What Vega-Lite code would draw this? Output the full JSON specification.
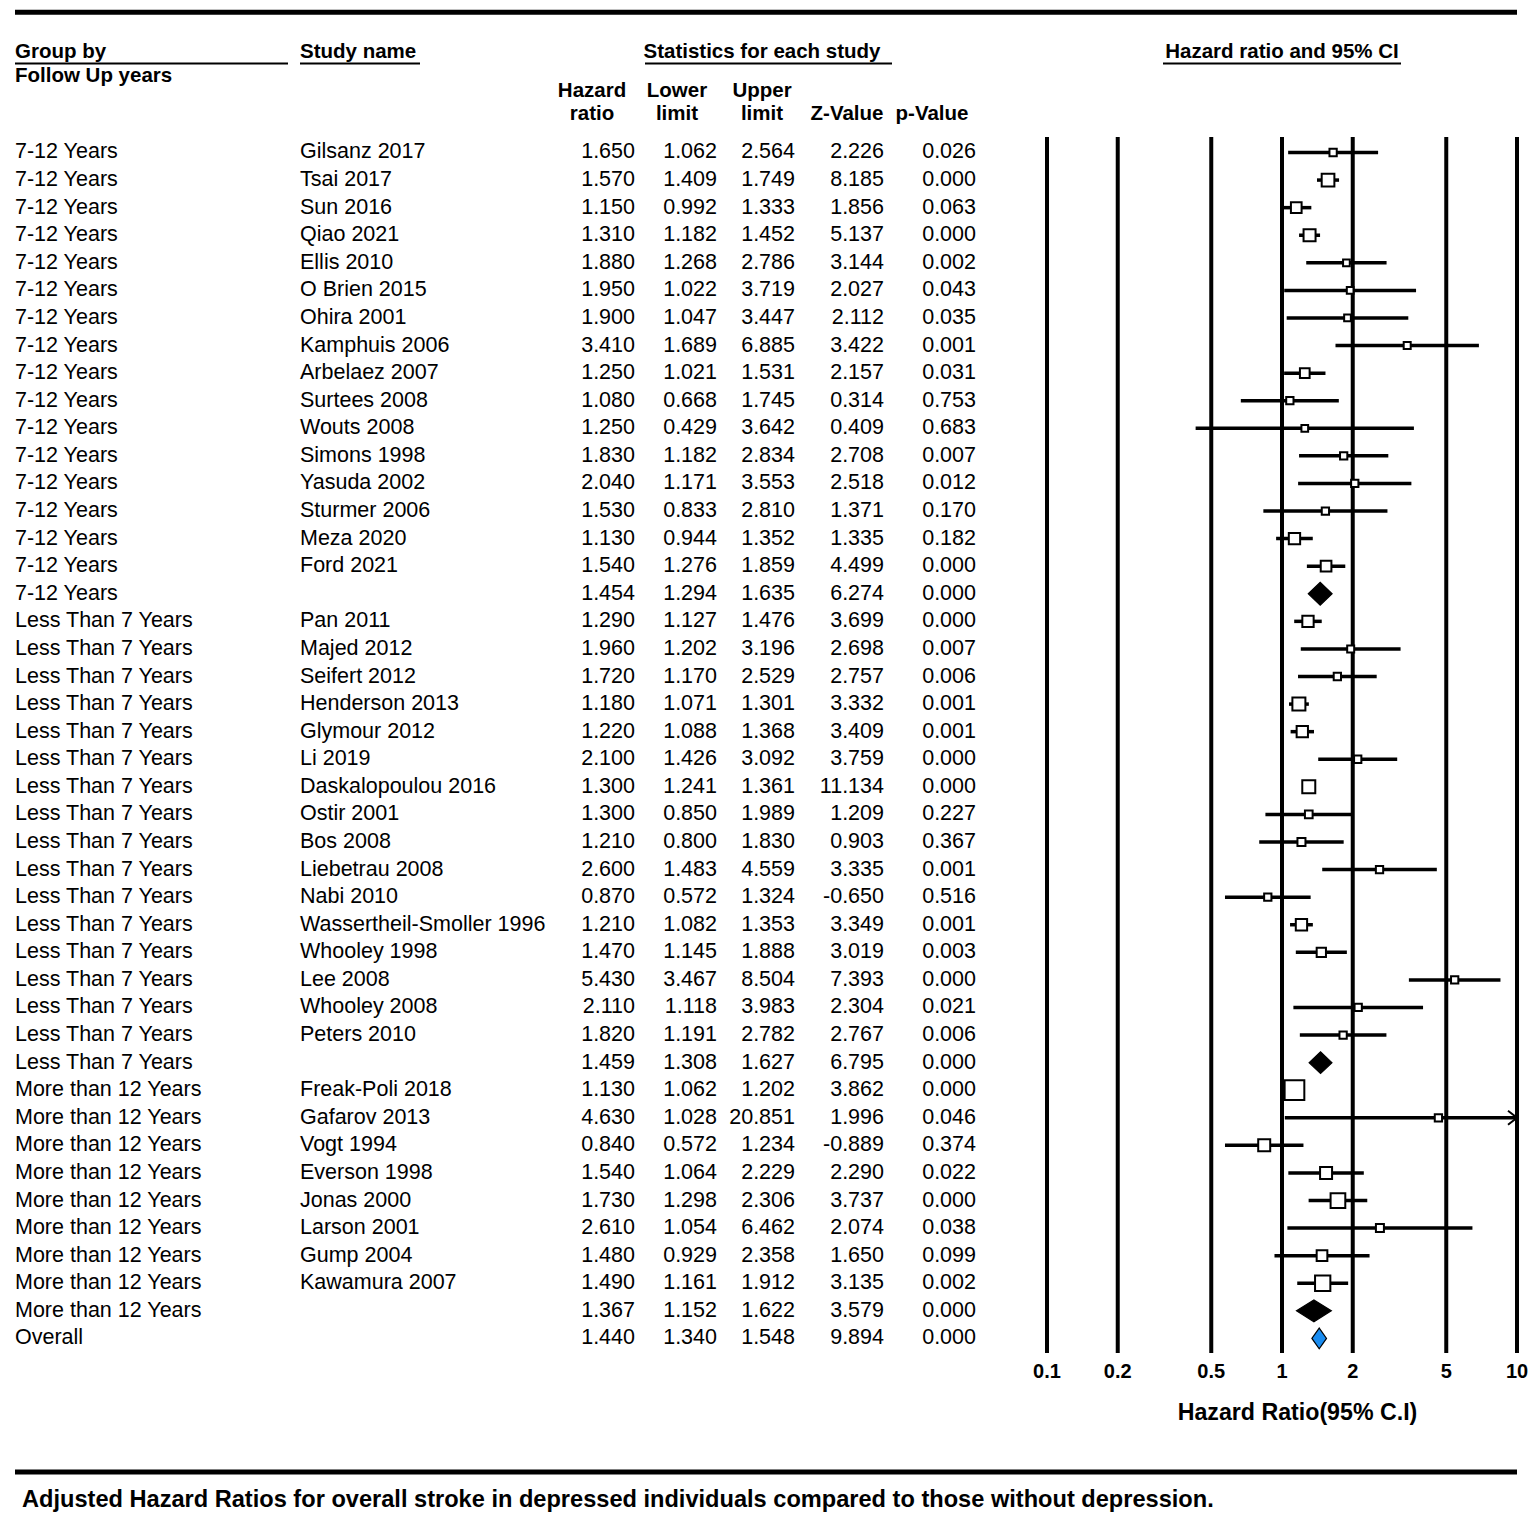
{
  "$schema": "https://vega.github.io/schema/vega-lite/v6.json",
  "width": 1502,
  "height": 1522,
  "autosize": {"type": "none"},
  "padding": {"left": 15, "right": 18, "top": 0, "bottom": 0},
  "background": "white",
  "config": {
    "view": {"stroke": null},
    "text": {"font": "Liberation Sans", "fontSize": 21.5, "baseline": "middle", "color": "black"},
    "locale": {"number": {"decimal": ".", "thousands": ",", "grouping": [3], "currency": ["$", ""], "minus": "-"}}
  },
  "datasets": {
    "rows": [
      {"row": 1, "group": "7-12 Years", "study": "Gilsanz 2017", "hr": 1.650, "ll": 1.062, "ul": 2.564, "z": 2.226, "p": 0.026, "type": "study", "w": 5.3},
      {"row": 2, "group": "7-12 Years", "study": "Tsai 2017", "hr": 1.570, "ll": 1.409, "ul": 1.749, "z": 8.185, "p": 0.000, "type": "study", "w": 16.1},
      {"row": 3, "group": "7-12 Years", "study": "Sun 2016", "hr": 1.150, "ll": 0.992, "ul": 1.333, "z": 1.856, "p": 0.063, "type": "study", "w": 11.4},
      {"row": 4, "group": "7-12 Years", "study": "Qiao 2021", "hr": 1.310, "ll": 1.182, "ul": 1.452, "z": 5.137, "p": 0.000, "type": "study", "w": 14.4},
      {"row": 5, "group": "7-12 Years", "study": "Ellis 2010", "hr": 1.880, "ll": 1.268, "ul": 2.786, "z": 3.144, "p": 0.002, "type": "study", "w": 4.5},
      {"row": 6, "group": "7-12 Years", "study": "O Brien 2015", "hr": 1.950, "ll": 1.022, "ul": 3.719, "z": 2.027, "p": 0.043, "type": "study", "w": 4.5},
      {"row": 7, "group": "7-12 Years", "study": "Ohira 2001", "hr": 1.900, "ll": 1.047, "ul": 3.447, "z": 2.112, "p": 0.035, "type": "study", "w": 4.5},
      {"row": 8, "group": "7-12 Years", "study": "Kamphuis 2006", "hr": 3.410, "ll": 1.689, "ul": 6.885, "z": 3.422, "p": 0.001, "type": "study", "w": 4.9},
      {"row": 9, "group": "7-12 Years", "study": "Arbelaez 2007", "hr": 1.250, "ll": 1.021, "ul": 1.531, "z": 2.157, "p": 0.031, "type": "study", "w": 9.4},
      {"row": 10, "group": "7-12 Years", "study": "Surtees 2008", "hr": 1.080, "ll": 0.668, "ul": 1.745, "z": 0.314, "p": 0.753, "type": "study", "w": 5.3},
      {"row": 11, "group": "7-12 Years", "study": "Wouts 2008", "hr": 1.250, "ll": 0.429, "ul": 3.642, "z": 0.409, "p": 0.683, "type": "study", "w": 4.5},
      {"row": 12, "group": "7-12 Years", "study": "Simons 1998", "hr": 1.830, "ll": 1.182, "ul": 2.834, "z": 2.708, "p": 0.007, "type": "study", "w": 5.3},
      {"row": 13, "group": "7-12 Years", "study": "Yasuda 2002", "hr": 2.040, "ll": 1.171, "ul": 3.553, "z": 2.518, "p": 0.012, "type": "study", "w": 5.3},
      {"row": 14, "group": "7-12 Years", "study": "Sturmer 2006", "hr": 1.530, "ll": 0.833, "ul": 2.810, "z": 1.371, "p": 0.170, "type": "study", "w": 5.3},
      {"row": 15, "group": "7-12 Years", "study": "Meza 2020", "hr": 1.130, "ll": 0.944, "ul": 1.352, "z": 1.335, "p": 0.182, "type": "study", "w": 12.8},
      {"row": 16, "group": "7-12 Years", "study": "Ford 2021", "hr": 1.540, "ll": 1.276, "ul": 1.859, "z": 4.499, "p": 0.000, "type": "study", "w": 11.4},
      {"row": 17, "group": "7-12 Years", "study": "", "hr": 1.454, "ll": 1.294, "ul": 1.635, "z": 6.274, "p": 0.000, "type": "summary"},
      {"row": 18, "group": "Less Than 7 Years", "study": "Pan 2011", "hr": 1.290, "ll": 1.127, "ul": 1.476, "z": 3.699, "p": 0.000, "type": "study", "w": 12.8},
      {"row": 19, "group": "Less Than 7 Years", "study": "Majed 2012", "hr": 1.960, "ll": 1.202, "ul": 3.196, "z": 2.698, "p": 0.007, "type": "study", "w": 4.9},
      {"row": 20, "group": "Less Than 7 Years", "study": "Seifert 2012", "hr": 1.720, "ll": 1.170, "ul": 2.529, "z": 2.757, "p": 0.006, "type": "study", "w": 5.3},
      {"row": 21, "group": "Less Than 7 Years", "study": "Henderson 2013", "hr": 1.180, "ll": 1.071, "ul": 1.301, "z": 3.332, "p": 0.001, "type": "study", "w": 16.9},
      {"row": 22, "group": "Less Than 7 Years", "study": "Glymour 2012", "hr": 1.220, "ll": 1.088, "ul": 1.368, "z": 3.409, "p": 0.001, "type": "study", "w": 12.8},
      {"row": 23, "group": "Less Than 7 Years", "study": "Li 2019", "hr": 2.100, "ll": 1.426, "ul": 3.092, "z": 3.759, "p": 0.000, "type": "study", "w": 5.3},
      {"row": 24, "group": "Less Than 7 Years", "study": "Daskalopoulou 2016", "hr": 1.300, "ll": 1.241, "ul": 1.361, "z": 11.134, "p": 0.000, "type": "study", "w": 16.9},
      {"row": 25, "group": "Less Than 7 Years", "study": "Ostir 2001", "hr": 1.300, "ll": 0.850, "ul": 1.989, "z": 1.209, "p": 0.227, "type": "study", "w": 5.9},
      {"row": 26, "group": "Less Than 7 Years", "study": "Bos 2008", "hr": 1.210, "ll": 0.800, "ul": 1.830, "z": 0.903, "p": 0.367, "type": "study", "w": 6.4},
      {"row": 27, "group": "Less Than 7 Years", "study": "Liebetrau 2008", "hr": 2.600, "ll": 1.483, "ul": 4.559, "z": 3.335, "p": 0.001, "type": "study", "w": 5.3},
      {"row": 28, "group": "Less Than 7 Years", "study": "Nabi 2010", "hr": 0.870, "ll": 0.572, "ul": 1.324, "z": -0.650, "p": 0.516, "type": "study", "w": 5.3},
      {"row": 29, "group": "Less Than 7 Years", "study": "Wassertheil-Smoller 1996", "hr": 1.210, "ll": 1.082, "ul": 1.353, "z": 3.349, "p": 0.001, "type": "study", "w": 12.8},
      {"row": 30, "group": "Less Than 7 Years", "study": "Whooley 1998", "hr": 1.470, "ll": 1.145, "ul": 1.888, "z": 3.019, "p": 0.003, "type": "study", "w": 8.6},
      {"row": 31, "group": "Less Than 7 Years", "study": "Lee 2008", "hr": 5.430, "ll": 3.467, "ul": 8.504, "z": 7.393, "p": 0.000, "type": "study", "w": 5.3},
      {"row": 32, "group": "Less Than 7 Years", "study": "Whooley 2008", "hr": 2.110, "ll": 1.118, "ul": 3.983, "z": 2.304, "p": 0.021, "type": "study", "w": 5.3},
      {"row": 33, "group": "Less Than 7 Years", "study": "Peters 2010", "hr": 1.820, "ll": 1.191, "ul": 2.782, "z": 2.767, "p": 0.006, "type": "study", "w": 5.3},
      {"row": 34, "group": "Less Than 7 Years", "study": "", "hr": 1.459, "ll": 1.308, "ul": 1.627, "z": 6.795, "p": 0.000, "type": "summary"},
      {"row": 35, "group": "More than 12 Years", "study": "Freak-Poli 2018", "hr": 1.130, "ll": 1.062, "ul": 1.202, "z": 3.862, "p": 0.000, "type": "study", "w": 38.8},
      {"row": 36, "group": "More than 12 Years", "study": "Gafarov 2013", "hr": 4.630, "ll": 1.028, "ul": 20.851, "z": 1.996, "p": 0.046, "type": "study", "w": 5.3},
      {"row": 37, "group": "More than 12 Years", "study": "Vogt 1994", "hr": 0.840, "ll": 0.572, "ul": 1.234, "z": -0.889, "p": 0.374, "type": "study", "w": 14.4},
      {"row": 38, "group": "More than 12 Years", "study": "Everson 1998", "hr": 1.540, "ll": 1.064, "ul": 2.229, "z": 2.290, "p": 0.022, "type": "study", "w": 14.4},
      {"row": 39, "group": "More than 12 Years", "study": "Jonas 2000", "hr": 1.730, "ll": 1.298, "ul": 2.306, "z": 3.737, "p": 0.000, "type": "study", "w": 21.6},
      {"row": 40, "group": "More than 12 Years", "study": "Larson 2001", "hr": 2.610, "ll": 1.054, "ul": 6.462, "z": 2.074, "p": 0.038, "type": "study", "w": 6.4},
      {"row": 41, "group": "More than 12 Years", "study": "Gump 2004", "hr": 1.480, "ll": 0.929, "ul": 2.358, "z": 1.650, "p": 0.099, "type": "study", "w": 11.4},
      {"row": 42, "group": "More than 12 Years", "study": "Kawamura 2007", "hr": 1.490, "ll": 1.161, "ul": 1.912, "z": 3.135, "p": 0.002, "type": "study", "w": 23.4},
      {"row": 43, "group": "More than 12 Years", "study": "", "hr": 1.367, "ll": 1.152, "ul": 1.622, "z": 3.579, "p": 0.000, "type": "summary"},
      {"row": 44, "group": "Overall", "study": "", "hr": 1.440, "ll": 1.340, "ul": 1.548, "z": 9.894, "p": 0.000, "type": "summary"}
    ],
    "ticks": [
      {"v": 0.1, "label": "0.1"}, {"v": 0.2, "label": "0.2"}, {"v": 0.5, "label": "0.5"},
      {"v": 1, "label": "1"}, {"v": 2, "label": "2"}, {"v": 5, "label": "5"}, {"v": 10, "label": "10"}
    ],
    "numhdr": [
      {"col": "Upper limit", "row": -2.644, "text": "Statistics for each study"},
      {"col": "Hazard ratio", "row": -1.23, "text": "Hazard"},
      {"col": "Hazard ratio", "row": -0.396, "text": "ratio"},
      {"col": "Lower limit", "row": -1.23, "text": "Lower"},
      {"col": "Lower limit", "row": -0.396, "text": "limit"},
      {"col": "Upper limit", "row": -1.23, "text": "Upper"},
      {"col": "Upper limit", "row": -0.396, "text": "limit"},
      {"col": "Z-Value", "row": -0.396, "text": "Z-Value"},
      {"col": "p-Value", "row": -0.396, "text": "p-Value"}
    ],
    "lefthdr": [
      {"col": "Group", "row": -2.644, "text": "Group by"},
      {"col": "Group", "row": -1.774, "text": "Follow Up years"},
      {"col": "Study", "row": -2.644, "text": "Study name"}
    ]
  },
  "resolve": {"scale": {"x": "independent"}, "axis": {"x": "independent"}},
  "layer": [
    {
      "data": {"name": "ticks"},
      "mark": {"type": "rule", "strokeWidth": 4, "color": "black"},
      "encoding": {
        "x": {"field": "v", "type": "quantitative", "scale": {"type": "log", "domain": [0.1, 10], "range": [1032, 1502], "clamp": true, "nice": false}, "axis": null},
        "y": {"datum": 0.438, "type": "quantitative", "scale": {"domain": [-4.529, 50.656], "reverse": true, "nice": false, "zero": false}, "axis": null},
        "y2": {"datum": 44.53}
      }
    },
    {
      "data": {"name": "rows"},
      "transform": [{"filter": "datum.type == 'study'"}],
      "mark": {"type": "rule", "strokeWidth": 3.5, "color": "black"},
      "encoding": {
        "x": {"field": "ll", "type": "quantitative", "scale": {"type": "log", "domain": [0.1, 10], "range": [1032, 1502], "clamp": true, "nice": false}, "axis": null},
        "x2": {"field": "ul"},
        "y": {"field": "row", "type": "quantitative", "scale": {"domain": [-4.529, 50.656], "reverse": true, "nice": false, "zero": false}, "axis": null}
      }
    },
    {
      "data": {"name": "rows"},
      "transform": [{"filter": "datum.type == 'study' && datum.ul > 10"}],
      "mark": {"type": "point", "shape": "M-9,-7L0,0L-9,7", "size": 4, "filled": false, "stroke": "black", "strokeWidth": 2, "opacity": 1},
      "encoding": {
        "x": {"field": "ul", "type": "quantitative", "scale": {"type": "log", "domain": [0.1, 10], "range": [1032, 1502], "clamp": true, "nice": false}, "axis": null},
        "y": {"field": "row", "type": "quantitative", "scale": {"domain": [-4.529, 50.656], "reverse": true, "nice": false, "zero": false}, "axis": null}
      }
    },
    {
      "data": {"name": "rows"},
      "transform": [{"filter": "datum.type == 'study'"}],
      "mark": {"type": "point", "shape": "square", "filled": true, "fill": "white", "stroke": "black", "strokeWidth": 2, "opacity": 1, "fillOpacity": 1, "strokeOpacity": 1},
      "encoding": {
        "x": {"field": "hr", "type": "quantitative", "scale": {"type": "log", "domain": [0.1, 10], "range": [1032, 1502], "clamp": true, "nice": false}, "axis": null},
        "y": {"field": "row", "type": "quantitative", "scale": {"domain": [-4.529, 50.656], "reverse": true, "nice": false, "zero": false}, "axis": null},
        "size": {"field": "w", "type": "quantitative", "scale": {"type": "linear", "domain": [0, 38.8], "range": [0, 388], "zero": true}, "legend": null}
      }
    },
    {
      "data": {"name": "rows"},
      "transform": [{"filter": "datum.type == 'summary'"}],
      "mark": {"type": "point", "size": 4, "filled": true, "stroke": "black", "strokeWidth": 1.2, "opacity": 1, "fillOpacity": 1, "strokeOpacity": 1},
      "encoding": {
        "x": {"field": "hr", "type": "quantitative", "scale": {"type": "log", "domain": [0.1, 10], "range": [1032, 1502], "clamp": true, "nice": false}, "axis": null},
        "y": {"field": "row", "type": "quantitative", "scale": {"domain": [-4.529, 50.656], "reverse": true, "nice": false, "zero": false}, "axis": null},
        "shape": {"field": "group", "type": "nominal", "legend": null, "scale": {"domain": ["7-12 Years", "Less Than 7 Years", "More than 12 Years", "Overall"], "range": ["M-11.9,0L0,-11.4L11.9,0L0,11.4Z", "M-11.4,0L0,-10.9L11.4,0L0,10.9Z", "M-17.4,0L0,-10.9L17.4,0L0,10.9Z", "M-7.3,0L0,-10.3L7.3,0L0,10.3Z"]}},
        "fill": {"field": "group", "type": "nominal", "legend": null, "scale": {"domain": ["7-12 Years", "Less Than 7 Years", "More than 12 Years", "Overall"], "range": ["black", "black", "black", "#1a8cf0"]}}
      }
    },
    {
      "data": {"name": "rows"},
      "mark": {"type": "text", "align": "left"},
      "encoding": {
        "x": {"datum": "Group", "type": "nominal", "scale": {"type": "point", "domain": ["Group", "Study"], "range": [0, 285], "padding": 0}, "axis": null},
        "y": {"field": "row", "type": "quantitative", "scale": {"domain": [-4.529, 50.656], "reverse": true, "nice": false, "zero": false}, "axis": null},
        "text": {"field": "group"}
      }
    },
    {
      "data": {"name": "rows"},
      "mark": {"type": "text", "align": "left"},
      "encoding": {
        "x": {"datum": "Study", "type": "nominal", "scale": {"type": "point", "domain": ["Group", "Study"], "range": [0, 285], "padding": 0}, "axis": null},
        "y": {"field": "row", "type": "quantitative", "scale": {"domain": [-4.529, 50.656], "reverse": true, "nice": false, "zero": false}, "axis": null},
        "text": {"field": "study"}
      }
    },
    {
      "data": {"name": "rows"},
      "mark": {"type": "text", "align": "right", "dx": 0},
      "encoding": {
        "x": {"datum": "Hazard ratio", "type": "nominal", "scale": {"type": "point", "domain": ["Hazard ratio", "Lower limit", "Upper limit", "Z-Value", "p-Value"], "range": [620, 960], "padding": 0}, "axis": null},
        "y": {"field": "row", "type": "quantitative", "scale": {"domain": [-4.529, 50.656], "reverse": true, "nice": false, "zero": false}, "axis": null},
        "text": {"field": "hr", "type": "quantitative", "format": ".3f"}
      }
    },
    {
      "data": {"name": "rows"},
      "mark": {"type": "text", "align": "right", "dx": -3},
      "encoding": {
        "x": {"datum": "Lower limit", "type": "nominal", "scale": {"type": "point", "domain": ["Hazard ratio", "Lower limit", "Upper limit", "Z-Value", "p-Value"], "range": [620, 960], "padding": 0}, "axis": null},
        "y": {"field": "row", "type": "quantitative", "scale": {"domain": [-4.529, 50.656], "reverse": true, "nice": false, "zero": false}, "axis": null},
        "text": {"field": "ll", "type": "quantitative", "format": ".3f"}
      }
    },
    {
      "data": {"name": "rows"},
      "mark": {"type": "text", "align": "right", "dx": -10},
      "encoding": {
        "x": {"datum": "Upper limit", "type": "nominal", "scale": {"type": "point", "domain": ["Hazard ratio", "Lower limit", "Upper limit", "Z-Value", "p-Value"], "range": [620, 960], "padding": 0}, "axis": null},
        "y": {"field": "row", "type": "quantitative", "scale": {"domain": [-4.529, 50.656], "reverse": true, "nice": false, "zero": false}, "axis": null},
        "text": {"field": "ul", "type": "quantitative", "format": ".3f"}
      }
    },
    {
      "data": {"name": "rows"},
      "mark": {"type": "text", "align": "right", "dx": -6},
      "encoding": {
        "x": {"datum": "Z-Value", "type": "nominal", "scale": {"type": "point", "domain": ["Hazard ratio", "Lower limit", "Upper limit", "Z-Value", "p-Value"], "range": [620, 960], "padding": 0}, "axis": null},
        "y": {"field": "row", "type": "quantitative", "scale": {"domain": [-4.529, 50.656], "reverse": true, "nice": false, "zero": false}, "axis": null},
        "text": {"field": "z", "type": "quantitative", "format": ".3f"}
      }
    },
    {
      "data": {"name": "rows"},
      "mark": {"type": "text", "align": "right", "dx": 1},
      "encoding": {
        "x": {"datum": "p-Value", "type": "nominal", "scale": {"type": "point", "domain": ["Hazard ratio", "Lower limit", "Upper limit", "Z-Value", "p-Value"], "range": [620, 960], "padding": 0}, "axis": null},
        "y": {"field": "row", "type": "quantitative", "scale": {"domain": [-4.529, 50.656], "reverse": true, "nice": false, "zero": false}, "axis": null},
        "text": {"field": "p", "type": "quantitative", "format": ".3f"}
      }
    },
    {
      "data": {"name": "numhdr"},
      "mark": {"type": "text", "align": "center", "dx": -43, "fontWeight": "bold", "fontSize": 20.5},
      "encoding": {
        "x": {"field": "col", "type": "nominal", "scale": {"type": "point", "domain": ["Hazard ratio", "Lower limit", "Upper limit", "Z-Value", "p-Value"], "range": [620, 960], "padding": 0}, "axis": null},
        "y": {"field": "row", "type": "quantitative", "scale": {"domain": [-4.529, 50.656], "reverse": true, "nice": false, "zero": false}, "axis": null},
        "text": {"field": "text"}
      }
    },
    {
      "data": {"name": "lefthdr"},
      "mark": {"type": "text", "align": "left", "fontWeight": "bold", "fontSize": 20.5},
      "encoding": {
        "x": {"field": "col", "type": "nominal", "scale": {"type": "point", "domain": ["Group", "Study"], "range": [0, 285], "padding": 0}, "axis": null},
        "y": {"field": "row", "type": "quantitative", "scale": {"domain": [-4.529, 50.656], "reverse": true, "nice": false, "zero": false}, "axis": null},
        "text": {"field": "text"}
      }
    },
    {
      "data": {"values": [{"label": "Hazard ratio and 95% CI"}]},
      "mark": {"type": "text", "align": "center", "fontWeight": "bold", "fontSize": 20.5},
      "encoding": {
        "x": {"datum": 1, "type": "quantitative", "scale": {"type": "log", "domain": [0.1, 10], "range": [1032, 1502], "clamp": true, "nice": false}, "axis": null},
        "y": {"datum": -2.644, "type": "quantitative", "scale": {"domain": [-4.529, 50.656], "reverse": true, "nice": false, "zero": false}, "axis": null},
        "text": {"field": "label"}
      }
    },
    {
      "data": {"name": "ticks"},
      "mark": {"type": "text", "align": "center", "fontWeight": "bold", "fontSize": 20},
      "encoding": {
        "x": {"field": "v", "type": "quantitative", "scale": {"type": "log", "domain": [0.1, 10], "range": [1032, 1502], "clamp": true, "nice": false}, "axis": null},
        "y": {"datum": 45.2, "type": "quantitative", "scale": {"domain": [-4.529, 50.656], "reverse": true, "nice": false, "zero": false}, "axis": null},
        "text": {"field": "label"}
      }
    },
    {
      "data": {"values": [{"label": "Hazard Ratio(95% C.I)"}]},
      "mark": {"type": "text", "align": "center", "dx": 15.5, "fontWeight": "bold", "fontSize": 23.2},
      "encoding": {
        "x": {"datum": 1, "type": "quantitative", "scale": {"type": "log", "domain": [0.1, 10], "range": [1032, 1502], "clamp": true, "nice": false}, "axis": null},
        "y": {"datum": 46.7, "type": "quantitative", "scale": {"domain": [-4.529, 50.656], "reverse": true, "nice": false, "zero": false}, "axis": null},
        "text": {"field": "label"}
      }
    },
    {
      "data": {"values": [{"label": "Adjusted Hazard Ratios for overall stroke in depressed individuals compared to those without depression."}]},
      "mark": {"type": "text", "align": "left", "dx": 7, "fontWeight": "bold", "fontSize": 23.6},
      "encoding": {
        "x": {"datum": "Group", "type": "nominal", "scale": {"type": "point", "domain": ["Group", "Study"], "range": [0, 285], "padding": 0}, "axis": null},
        "y": {"datum": 49.86, "type": "quantitative", "scale": {"domain": [-4.529, 50.656], "reverse": true, "nice": false, "zero": false}, "axis": null},
        "text": {"field": "label"}
      }
    },
    {
      "data": {"values": [{}]},
      "mark": {"type": "rule", "strokeWidth": 2, "color": "black", "x2Offset": -12},
      "encoding": {
        "x": {"datum": "Group", "type": "nominal", "scale": {"type": "point", "domain": ["Group", "Study"], "range": [0, 285], "padding": 0}, "axis": null},
        "x2": {"datum": "Study"},
        "y": {"datum": -2.227, "type": "quantitative", "scale": {"domain": [-4.529, 50.656], "reverse": true, "nice": false, "zero": false}, "axis": null}
      }
    },
    {
      "data": {"values": [{}]},
      "mark": {"type": "rule", "strokeWidth": 2, "color": "black", "x2Offset": 120},
      "encoding": {
        "x": {"datum": "Study", "type": "nominal", "scale": {"type": "point", "domain": ["Group", "Study"], "range": [0, 285], "padding": 0}, "axis": null},
        "x2": {"datum": "Study"},
        "y": {"datum": -2.227, "type": "quantitative", "scale": {"domain": [-4.529, 50.656], "reverse": true, "nice": false, "zero": false}, "axis": null}
      }
    },
    {
      "data": {"values": [{}]},
      "mark": {"type": "rule", "strokeWidth": 2, "color": "black", "xOffset": 10, "x2Offset": 2},
      "encoding": {
        "x": {"datum": "Hazard ratio", "type": "nominal", "scale": {"type": "point", "domain": ["Hazard ratio", "Lower limit", "Upper limit", "Z-Value", "p-Value"], "range": [620, 960], "padding": 0}, "axis": null},
        "x2": {"datum": "Z-Value"},
        "y": {"datum": -2.227, "type": "quantitative", "scale": {"domain": [-4.529, 50.656], "reverse": true, "nice": false, "zero": false}, "axis": null}
      }
    },
    {
      "data": {"values": [{}]},
      "mark": {"type": "rule", "strokeWidth": 2, "color": "black", "xOffset": -119, "x2Offset": 119},
      "encoding": {
        "x": {"datum": 1, "type": "quantitative", "scale": {"type": "log", "domain": [0.1, 10], "range": [1032, 1502], "clamp": true, "nice": false}, "axis": null},
        "x2": {"datum": 1},
        "y": {"datum": -2.227, "type": "quantitative", "scale": {"domain": [-4.529, 50.656], "reverse": true, "nice": false, "zero": false}, "axis": null}
      }
    },
    {
      "data": {"values": [{}]},
      "mark": {"type": "rule", "strokeWidth": 5, "color": "black"},
      "encoding": {
        "y": {"datum": -4.083, "type": "quantitative", "scale": {"domain": [-4.529, 50.656], "reverse": true, "nice": false, "zero": false}, "axis": null}
      }
    },
    {
      "data": {"values": [{}]},
      "mark": {"type": "rule", "strokeWidth": 5, "color": "black"},
      "encoding": {
        "y": {"datum": 48.84, "type": "quantitative", "scale": {"domain": [-4.529, 50.656], "reverse": true, "nice": false, "zero": false}, "axis": null}
      }
    }
  ]
}
